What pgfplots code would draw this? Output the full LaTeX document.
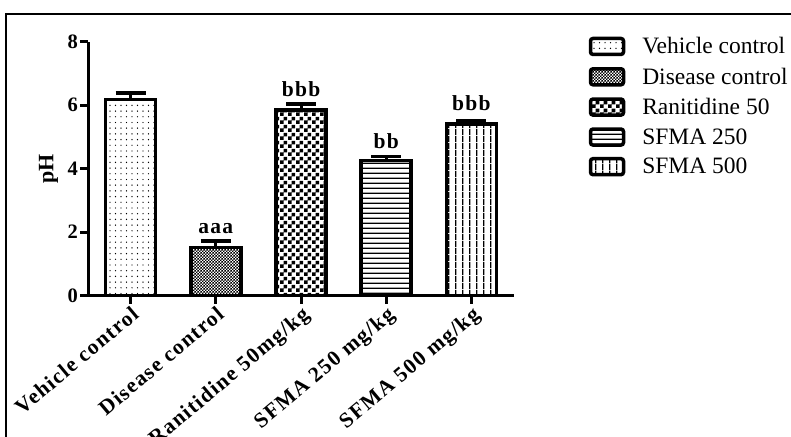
\documentclass[border=0pt]{standalone}
\usepackage{fontspec}
\setmainfont{Liberation Serif}
\newfontfamily\spacedserif[LetterSpace=6]{Liberation Serif}
\usepackage{pgfplots}
\pgfplotsset{compat=1.18}
\usetikzlibrary{patterns}

% fill patterns for the five groups
\pgfdeclarepatternformonly{sparsedots}{\pgfqpoint{-1pt}{-1pt}}{\pgfqpoint{1pt}{1pt}}{\pgfqpoint{5.5pt}{5.7pt}}{%
  \pgfpathcircle{\pgfpointorigin}{0.7pt}\pgfusepath{fill}}
\pgfdeclarepatternformonly{finechecker}{\pgfpointorigin}{\pgfqpoint{3.4pt}{3.4pt}}{\pgfqpoint{3.4pt}{3.4pt}}{%
  \pgfpathrectangle{\pgfpointorigin}{\pgfqpoint{1.7pt}{1.7pt}}%
  \pgfpathrectangle{\pgfqpoint{1.7pt}{1.7pt}}{\pgfqpoint{1.7pt}{1.7pt}}%
  \pgfusepath{fill}}
\pgfdeclarepatternformonly{bigchecker}{\pgfpointorigin}{\pgfqpoint{8pt}{8pt}}{\pgfqpoint{8pt}{8pt}}{%
  \pgfpathrectangle{\pgfpointorigin}{\pgfqpoint{4pt}{4pt}}%
  \pgfpathrectangle{\pgfqpoint{4pt}{4pt}}{\pgfqpoint{4pt}{4pt}}%
  \pgfusepath{fill}}
\pgfdeclarepatternformonly{hstripes}{\pgfpointorigin}{\pgfqpoint{5.3pt}{5.3pt}}{\pgfqpoint{5.3pt}{5.3pt}}{%
  \pgfpathrectangle{\pgfpointorigin}{\pgfqpoint{5.3pt}{1.5pt}}\pgfusepath{fill}}
\pgfdeclarepatternformonly{vstripes}{\pgfpointorigin}{\pgfqpoint{7pt}{7pt}}{\pgfqpoint{7pt}{7pt}}{%
  \pgfpathrectangle{\pgfpointorigin}{\pgfqpoint{1.6pt}{7pt}}\pgfusepath{fill}}

\newcommand{\ytickfont}{\fontsize{20.5}{22}\selectfont\bfseries}
\newcommand{\xtickfont}{\spacedserif\fontsize{21.5}{23}\selectfont\bfseries}
\newcommand{\legfont}{\fontsize{23.5}{26}\selectfont}

\pgfplotsset{
  semerr/.style={error bars/.cd, y dir=plus, y explicit,
    error bar style={line width=3pt},
    error mark options={rotate=90, line width=3.5pt, mark size=15pt}},
}

\begin{document}
\begin{tikzpicture}
\useasboundingbox (0pt,0pt) rectangle (791pt,-436pt);
\clip (0pt,0pt) rectangle (791pt,-436pt);
% outer frame
\draw[line width=2pt] (6pt,-445pt) -- (6pt,-14pt) -- (800pt,-14pt);

\begin{axis}[
  at={(88pt,-295.5pt)}, anchor=south west,
  scale only axis, width=426pt, height=253.8pt,
  xmin=-0.5, xmax=4.5, ymin=0, ymax=8,
  axis lines=left,
  axis line style={-, line width=3pt},
  tick align=outside, major tick length=8pt,
  tick style={line width=3pt, black},
  xtick={0,1,2,3,4},
  xticklabels={Vehicle control, Disease control, Ranitidine 50mg/kg, SFMA 250 mg/kg, SFMA 500 mg/kg},
  xticklabel style={rotate=40, anchor=north east, font=\xtickfont, inner sep=1pt},
  ytick={0,2,4,6,8},
  yticklabel style={font=\ytickfont, inner sep=2pt},
  /pgf/number format/assume math mode=true,
  ylabel={pH},
  every axis y label/.style={at={(ticklabel cs:0.5)}, rotate=90, anchor=south, yshift=4pt,
    font=\fontsize{22}{24}\selectfont\bfseries},
  clip=false,
  legend style={at={(axis description cs:1.175,1.025)}, anchor=north west, draw=none, fill=none,
    font=\legfont, row sep=8.5pt, column sep=15pt, inner sep=0pt},
  legend cell align=left,
  legend image code/.code={\draw[#1, line width=3.5pt, rounded corners=2.5pt] (0pt,-8pt) rectangle (33pt,8pt);},
  every axis plot/.append style={ybar, bar shift=0pt, bar width=50pt, draw=black, line width=3.5pt},
]
\addplot[pattern=sparsedots, semerr] coordinates {(0,6.18) +- (0,0.21)};
\addlegendentry{Vehicle control}
\addplot[pattern=finechecker, semerr] coordinates {(1,1.51) +- (0,0.21)};
\addlegendentry{Disease control}
\addplot[pattern=bigchecker, semerr] coordinates {(2,5.85) +- (0,0.18)};
\addlegendentry{Ranitidine 50}
\addplot[pattern=hstripes, semerr] coordinates {(3,4.26) +- (0,0.12)};
\addlegendentry{SFMA 250}
\addplot[pattern=vstripes, semerr] coordinates {(4,5.41) +- (0,0.11)};
\addlegendentry{SFMA 500}

% significance letters above the error caps
\node[font=\xtickfont, anchor=base] at (axis cs:1,1.72) [yshift=7pt] {aaa};
\node[font=\xtickfont, anchor=base] at (axis cs:2,6.03) [yshift=8pt] {bbb};
\node[font=\xtickfont, anchor=base] at (axis cs:3,4.38) [yshift=8pt] {bb};
\node[font=\xtickfont, anchor=base] at (axis cs:4,5.52) [yshift=10pt] {bbb};
\end{axis}
\end{tikzpicture}
\end{document}
